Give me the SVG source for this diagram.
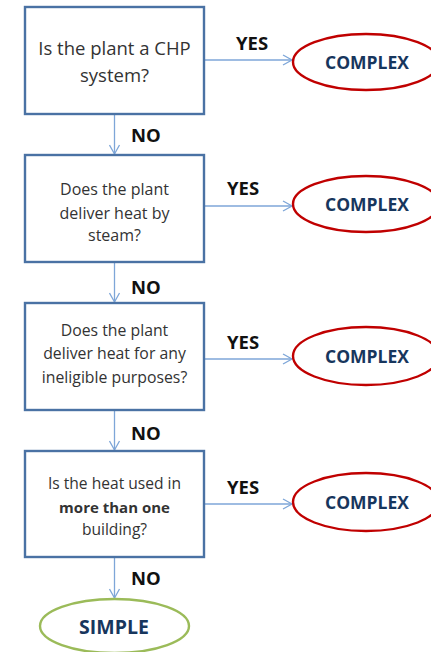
<svg xmlns="http://www.w3.org/2000/svg" width="431" height="652" viewBox="0 0 431 652">
<style>
.box{fill:#fff;stroke:#4a72a4;stroke-width:2.4}
.q{font-family:"Open Sans","Liberation Sans",sans-serif;fill:#333;text-anchor:middle}
.lab{font-family:"Open Sans","Liberation Sans",sans-serif;font-weight:bold;fill:#111;font-size:18.5px}
.cx{fill:#fff;stroke:#c00000;stroke-width:2.4}
.sm{fill:#fff;stroke:#9bbb59;stroke-width:2.4}
.ot{font-family:"Open Sans","Liberation Sans",sans-serif;font-weight:bold;fill:#17365d;font-size:17.5px;text-anchor:middle}
.c{stroke:#7ea6d8;stroke-width:1.3;fill:none;marker-end:url(#ah)}
</style>
<defs>
<marker id="ah" markerWidth="12" markerHeight="12" refX="10" refY="6" orient="auto" markerUnits="userSpaceOnUse">
<path d="M1,1 L10,6 L1,11" fill="none" stroke="#7ea6d8" stroke-width="1.3"/>
</marker>
</defs>
<g id="connectors">
<line class="c" x1="114.5" y1="115" x2="114.5" y2="154"/>
<line class="c" x1="114.5" y1="263" x2="114.5" y2="302"/>
<line class="c" x1="114.5" y1="411" x2="114.5" y2="450"/>
<line class="c" x1="114.5" y1="558" x2="114.5" y2="598"/>
<line class="c" x1="204" y1="60" x2="292" y2="60"/>
<line class="c" x1="204" y1="206" x2="292" y2="206"/>
<line class="c" x1="204" y1="359" x2="292" y2="359"/>
<line class="c" x1="204" y1="504" x2="292" y2="504"/>
<text class="lab" x="236" y="49.5">YES</text>
<text class="lab" x="227" y="194.5">YES</text>
<text class="lab" x="227" y="348.5">YES</text>
<text class="lab" x="227" y="493.5">YES</text>
<text class="lab" x="131" y="141.5">NO</text>
<text class="lab" x="131" y="293.5">NO</text>
<text class="lab" x="131" y="439.5">NO</text>
<text class="lab" x="131" y="584.5">NO</text>
</g>
<g id="q1">
<rect class="box" x="25" y="7" width="179" height="107"/>
<text class="q" font-size="18.5" x="114.5" y="54.5">Is the plant a CHP</text>
<text class="q" font-size="18.5" x="114.5" y="81.5">system?</text>
</g>
<g id="q2">
<rect class="box" x="25" y="155" width="179" height="107"/>
<text class="q" font-size="16" x="114.5" y="194.5">Does the plant</text>
<text class="q" font-size="16" x="114.5" y="218.5">deliver heat by</text>
<text class="q" font-size="16" x="114.5" y="240.5">steam?</text>
</g>
<g id="q3">
<rect class="box" x="25" y="303" width="179" height="107"/>
<text class="q" font-size="15.8" x="114.5" y="335.5">Does the plant</text>
<text class="q" font-size="15.8" x="114.5" y="358.5">deliver heat for any</text>
<text class="q" font-size="15.8" x="114.5" y="382.5">ineligible purposes?</text>
</g>
<g id="q4">
<rect class="box" x="25" y="451" width="179" height="106"/>
<text class="q" font-size="15.6" x="114.5" y="488.5">Is the heat used in</text>
<text class="q" font-size="15" x="114.5" y="512.5" font-weight="bold" fill="#222">more than one</text>
<text class="q" font-size="15.6" x="114.5" y="534.5">building?</text>
</g>
<g id="complex1">
<ellipse class="cx" cx="366" cy="62" rx="73" ry="28"/>
<text class="ot" x="367" y="68.5">COMPLEX</text>
</g>
<g id="complex2">
<ellipse class="cx" cx="366" cy="204" rx="73" ry="28"/>
<text class="ot" x="367" y="210.5">COMPLEX</text>
</g>
<g id="complex3">
<ellipse class="cx" cx="366" cy="356" rx="73" ry="29"/>
<text class="ot" x="367" y="362.5">COMPLEX</text>
</g>
<g id="complex4">
<ellipse class="cx" cx="366" cy="502" rx="73" ry="29"/>
<text class="ot" x="367" y="508.5">COMPLEX</text>
</g>
<g id="simple">
<ellipse class="sm" cx="114.5" cy="626" rx="74.5" ry="27"/>
<text class="ot" x="114" y="634" style="font-size:19.5px">SIMPLE</text>
</g>
</svg>
